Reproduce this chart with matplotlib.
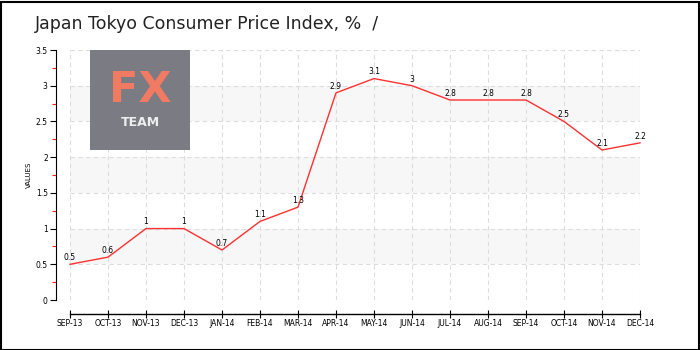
import matplotlib
matplotlib.use("Agg")
import matplotlib.pyplot as plt
from matplotlib.patches import Rectangle

categories = ["SEP-13", "OCT-13", "NOV-13", "DEC-13", "JAN-14", "FEB-14", "MAR-14", "APR-14",
              "MAY-14", "JUN-14", "JUL-14", "AUG-14", "SEP-14", "OCT-14", "NOV-14", "DEC-14"]
values = [0.5, 0.6, 1.0, 1.0, 0.7, 1.1, 1.3, 2.9, 3.1, 3.0, 2.8, 2.8, 2.8, 2.5, 2.1, 2.2]
value_labels = ["0.5", "0.6", "1", "1", "0.7", "1.1", "1.3", "2.9", "3.1", "3", "2.8", "2.8", "2.8", "2.5", "2.1", "2.2"]
y_ticks = [0, 0.5, 1, 1.5, 2, 2.5, 3, 3.5]
y_tick_labels = ["0", "0.5", "1", "1.5", "2", "2.5", "3", "3.5"]
title = "Japan Tokyo Consumer Price Index, %  /"

W, H = 700, 350
fig = plt.figure(figsize=(7, 3.5), dpi=100)
fig.patch.set_facecolor("white")

# axes: x 70..640, y 50..300 (pixels from top)
ax = fig.add_axes([70 / W, (H - 300) / H, 570 / W, 250 / H])
ax.set_xlim(0, len(categories) - 1)
ax.set_ylim(0, 3.5)
ax.set_facecolor("white")

# alternating bands
for lo in [0.5, 1.5, 2.5]:
    ax.axhspan(lo, lo + 0.5, color="#f7f7f7", zorder=0, lw=0)

ax.grid(True, color="#dddddd", linestyle=(0, (4, 3)), linewidth=0.8, zorder=1)
ax.set_axisbelow(True)

xs = list(range(len(categories)))
ax.plot(xs, values, color="#ff3030", linewidth=1.0, zorder=3, clip_on=False)
for x, v, lab in zip(xs, values, value_labels):
    ax.annotate(lab, (x, v), xytext=(0, 1.5), textcoords="offset points",
                ha="center", va="bottom", fontsize=5.5, color="black", zorder=4)

ax.set_xticks(xs)
ax.set_xticklabels(categories)
ax.set_yticks(y_ticks)
ax.set_yticklabels(y_tick_labels)
ax.set_yticks([0.25, 0.75, 1.25, 1.75, 2.25, 2.75, 3.25], minor=True)
ax.tick_params(axis="y", which="major", direction="out", length=4, width=0.8, pad=2,
               color="black", labelsize=5.5)
ax.tick_params(axis="y", which="minor", direction="out", length=3, width=0.8, color="#ff2020")
ax.tick_params(axis="x", which="major", direction="inout", length=6, width=0.8, pad=1,
               color="black", labelsize=5.5)

for s in ["top", "right"]:
    ax.spines[s].set_visible(False)
ax.spines["left"].set_position(("outward", 10))
ax.spines["bottom"].set_position(("outward", 10))
ax.spines["left"].set_linewidth(0.8)
ax.spines["bottom"].set_linewidth(1.0)

ax.set_ylabel("VALUES", fontsize=5, labelpad=3)

# title
fig.text(35 / W, 1 - 24 / H, title, fontsize=12.5, ha="left", va="center",
         color="#222222")

# logo
logo = fig.add_axes([90 / W, (H - 150) / H, 100 / W, 100 / H])
logo.set_xlim(0, 1)
logo.set_ylim(0, 1)
logo.axis("off")
logo.add_patch(Rectangle((0, 0), 1, 1, color="#7b7b84"))
logo.text(0.5, 0.6, "FX", color="#f07a62", fontsize=31, ha="center", va="center", weight="bold")
logo.text(0.5, 0.28, "TEAM", color="#eeeeee", fontsize=9, ha="center", va="center", weight="bold")

# figure border
fig.add_artist(Rectangle((0.5 / W, 0.5 / H), 1 - 2 / W, 1 - 2 / H, transform=fig.transFigure,
                         fill=False, edgecolor="black", linewidth=1.5))

fig.savefig("out.png", dpi=100)
